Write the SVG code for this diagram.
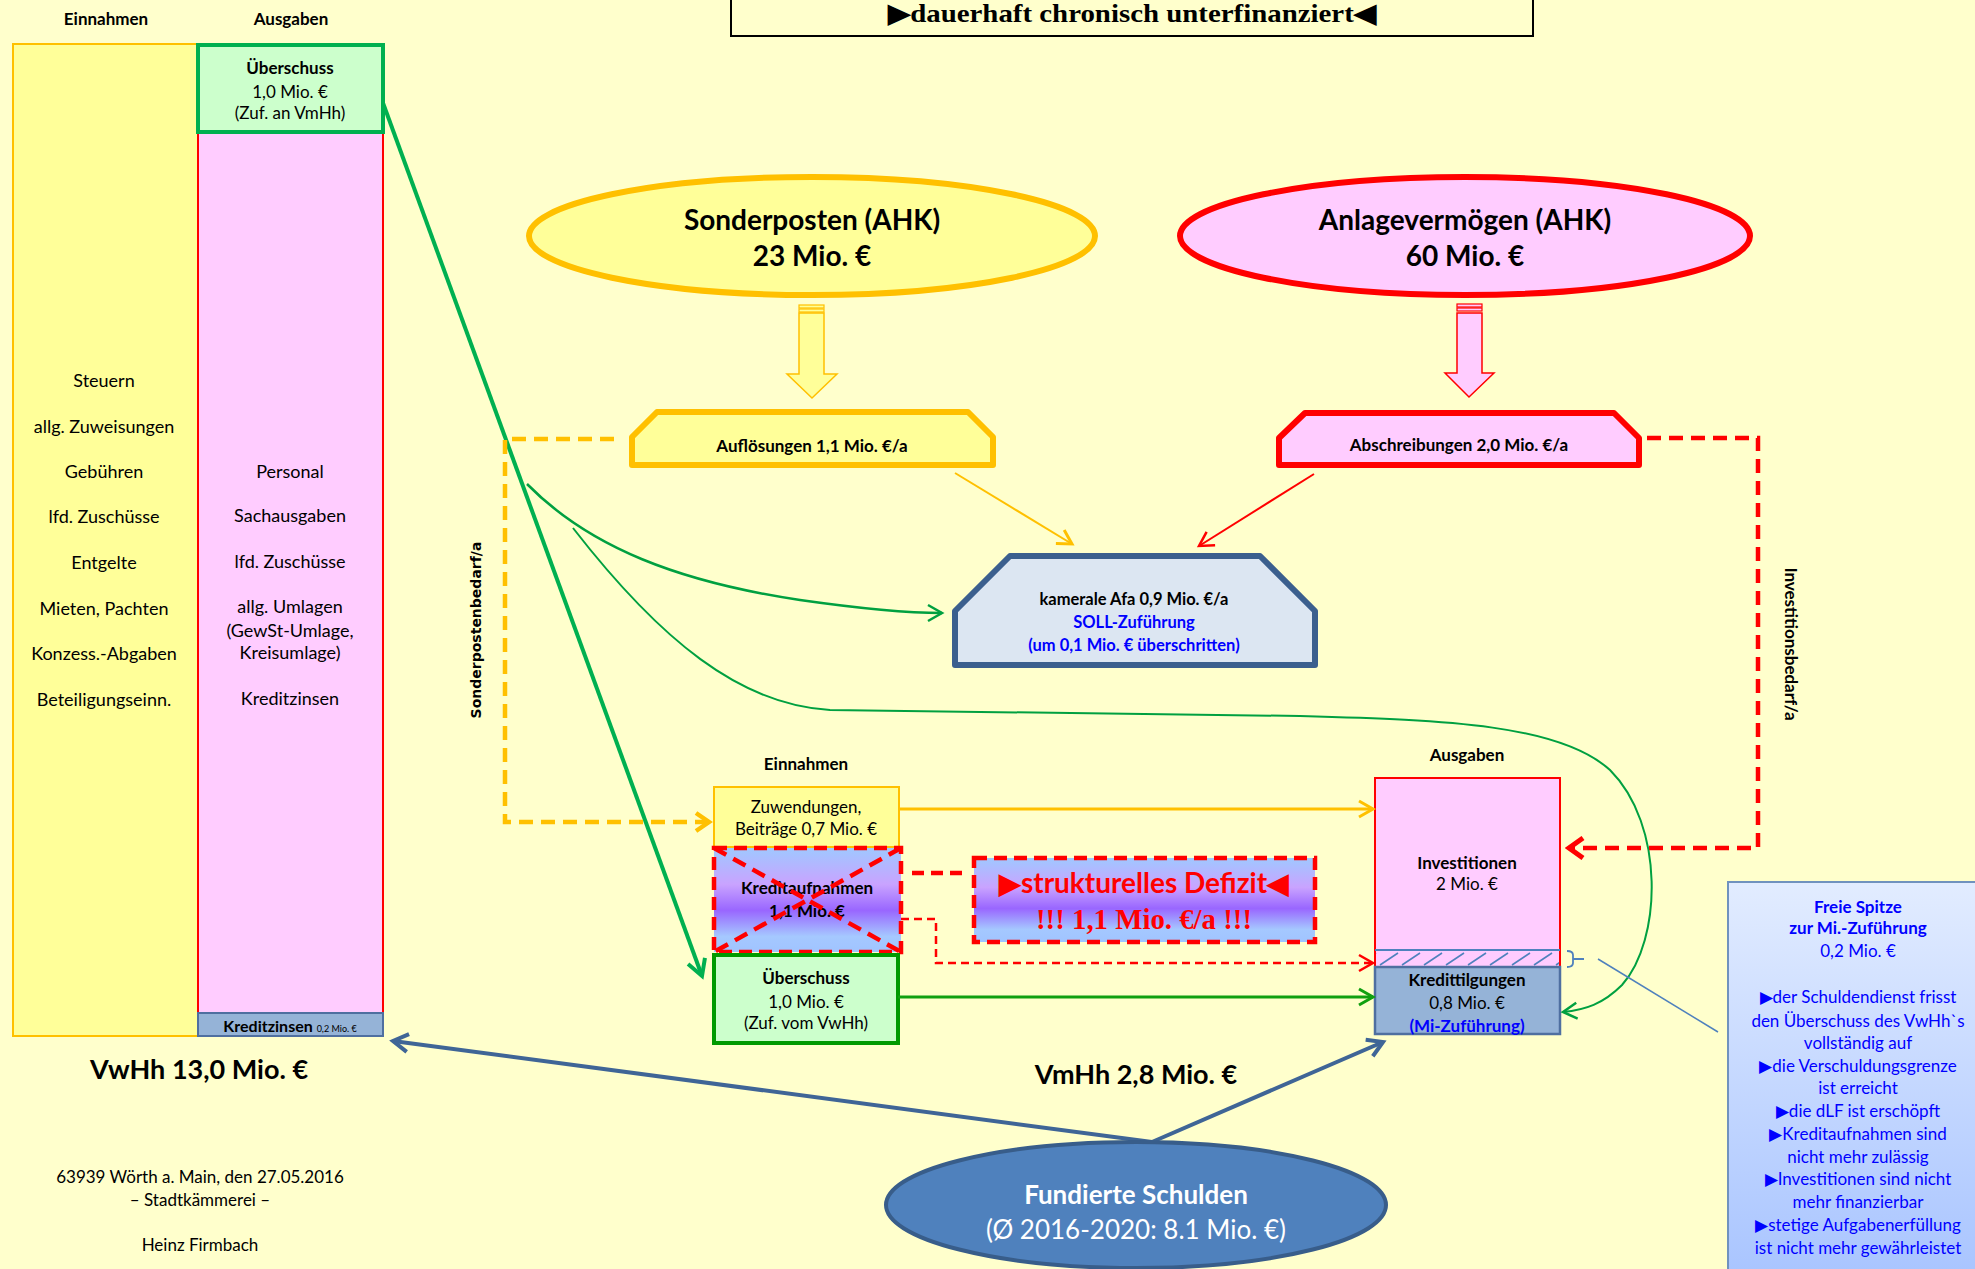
<svg xmlns="http://www.w3.org/2000/svg" width="1975" height="1269" viewBox="0 0 1975 1269">
<style>
.c{font-family:Lato,"Noto Sans",sans-serif;fill:#000}
.b{font-weight:bold}
.m{text-anchor:middle}
.s17{font-size:17px}
.s18{font-size:18px}
.blue{fill:#0000FF}
.ser{font-family:"Liberation Serif","Times New Roman",serif;font-weight:bold}
.ln{fill:none}
</style>
<defs>
<linearGradient id="gP" x1="0" y1="0" x2="0" y2="1">
<stop offset="0" stop-color="#9FC8FF"/>
<stop offset="0.35" stop-color="#C9A3FF"/>
<stop offset="0.6" stop-color="#9966FF"/>
<stop offset="0.85" stop-color="#A5C8FF"/>
<stop offset="1" stop-color="#A0C4FF"/>
</linearGradient>
<linearGradient id="gF" x1="0" y1="0" x2="0" y2="1">
<stop offset="0" stop-color="#E2ECFF"/>
<stop offset="1" stop-color="#A8C4FF"/>
</linearGradient>
<pattern id="hatch" patternUnits="userSpaceOnUse" x="1378" y="950" width="22" height="17">
<path d="M2,15 L20,3" stroke="#4F81BD" stroke-width="1.6"/>
</pattern>
<marker id="mGB" viewBox="-20 -12 24 24" refX="0" refY="0" markerWidth="24" markerHeight="24" markerUnits="userSpaceOnUse" orient="auto"><path d="M-16,-9 L0,0 L-16,9" fill="none" stroke="#00B050" stroke-width="4"/></marker>
<marker id="mG" viewBox="-20 -12 24 24" refX="0" refY="0" markerWidth="24" markerHeight="24" markerUnits="userSpaceOnUse" orient="auto"><path d="M-14,-8 L0,0 L-14,8" fill="none" stroke="#00A040" stroke-width="2.5"/></marker>
<marker id="mGD" viewBox="-20 -12 24 24" refX="0" refY="0" markerWidth="24" markerHeight="24" markerUnits="userSpaceOnUse" orient="auto"><path d="M-14,-8 L0,0 L-14,8" fill="none" stroke="#10A010" stroke-width="3"/></marker>
<marker id="mY" viewBox="-20 -12 24 24" refX="0" refY="0" markerWidth="24" markerHeight="24" markerUnits="userSpaceOnUse" orient="auto"><path d="M-14,-8 L0,0 L-14,8" fill="none" stroke="#FFC000" stroke-width="3"/></marker>
<marker id="mYB" viewBox="-20 -12 24 24" refX="0" refY="0" markerWidth="24" markerHeight="24" markerUnits="userSpaceOnUse" orient="auto"><path d="M-13,-9 L0,0 L-13,9" fill="none" stroke="#FFC000" stroke-width="4.5"/></marker>
<marker id="mR" viewBox="-20 -12 24 24" refX="0" refY="0" markerWidth="24" markerHeight="24" markerUnits="userSpaceOnUse" orient="auto"><path d="M-14,-8 L0,0 L-14,8" fill="none" stroke="#FF0000" stroke-width="2.5"/></marker>
<marker id="mRB" viewBox="-20 -12 24 24" refX="0" refY="0" markerWidth="24" markerHeight="24" markerUnits="userSpaceOnUse" orient="auto"><path d="M-14,-10 L0,0 L-14,10" fill="none" stroke="#FF0000" stroke-width="5"/></marker>
<marker id="mB" viewBox="-20 -12 24 24" refX="0" refY="0" markerWidth="24" markerHeight="24" markerUnits="userSpaceOnUse" orient="auto"><path d="M-15,-9 L0,0 L-15,9" fill="none" stroke="#3F6596" stroke-width="4"/></marker>
</defs>
<rect x="0" y="0" width="1975" height="1269" fill="#FFFFCC"/>

<g id="title">
<rect x="731" y="-10" width="802" height="46" fill="#FFFFCC" stroke="#000" stroke-width="2"/>
<text class="ser m" x="1132" y="22" font-size="26" textLength="488" lengthAdjust="spacingAndGlyphs">▶dauerhaft chronisch unterfinanziert◀</text>
</g>

<g id="vwhh-einnahmen">
<text class="c b m s17" x="106" y="25">Einnahmen</text>
<rect x="13" y="44" width="185" height="992" fill="#FFFF99" stroke="#FFC000" stroke-width="2"/>
<text class="c m s18" x="104" y="387">Steuern</text>
<text class="c m s18" x="104" y="433">allg. Zuweisungen</text>
<text class="c m s18" x="104" y="478">Gebühren</text>
<text class="c m s18" x="104" y="523">lfd. Zuschüsse</text>
<text class="c m s18" x="104" y="569">Entgelte</text>
<text class="c m s18" x="104" y="615">Mieten, Pachten</text>
<text class="c m s18" x="104" y="660">Konzess.-Abgaben</text>
<text class="c m s18" x="104" y="706">Beteiligungseinn.</text>
</g>

<g id="vwhh-ausgaben">
<text class="c b m s17" x="291" y="25">Ausgaben</text>
<rect x="198" y="44" width="185" height="992" fill="#FFCCFF" stroke="#FF0000" stroke-width="2"/>
<text class="c m s18" x="290" y="478">Personal</text>
<text class="c m s18" x="290" y="522">Sachausgaben</text>
<text class="c m s18" x="290" y="568">lfd. Zuschüsse</text>
<text class="c m s18" x="290" y="613">allg. Umlagen</text>
<text class="c m s18" x="290" y="637">(GewSt-Umlage,</text>
<text class="c m s18" x="290" y="659">Kreisumlage)</text>
<text class="c m s18" x="290" y="705">Kreditzinsen</text>
</g>

<g id="vwhh-ueberschuss">
<rect x="198" y="45" width="185" height="87" fill="#CCFFCC" stroke="#00B050" stroke-width="4"/>
<text class="c b m s17" x="290" y="74">Überschuss</text>
<text class="c m s17" x="290" y="98">1,0 Mio. €</text>
<text class="c m s17" x="290" y="119">(Zuf. an VmHh)</text>
</g>

<g id="vwhh-kreditzinsen">
<rect x="198" y="1013" width="185" height="23" fill="#95B3D7" stroke="#4F6FA0" stroke-width="2"/>
<text class="c b m" x="290" y="1032" font-size="16">Kreditzinsen <tspan font-weight="normal" font-size="9">0,2 Mio. €</tspan></text>
</g>

<g id="vwhh-label">
<text class="c b m" x="199" y="1079" font-size="27">VwHh 13,0 Mio. €</text>
</g>

<g id="footer">
<text class="c m s17" x="200" y="1183">63939 Wörth a. Main, den 27.05.2016</text>
<text class="c m s17" x="200" y="1206">– Stadtkämmerei –</text>
<text class="c m s17" x="200" y="1251">Heinz Firmbach</text>
</g>

<g id="sonderposten">
<ellipse cx="812" cy="236" rx="283" ry="59" fill="#FFFF99" stroke="#FFC000" stroke-width="6"/>
<text class="c b m" x="812" y="230" font-size="28">Sonderposten (AHK)</text>
<text class="c b m" x="812" y="266" font-size="28">23 Mio. €</text>
</g>

<g id="anlagevermoegen">
<ellipse cx="1465" cy="236" rx="285" ry="59" fill="#FFCCFF" stroke="#FF0000" stroke-width="6"/>
<text class="c b m" x="1465" y="230" font-size="28">Anlagevermögen (AHK)</text>
<text class="c b m" x="1465" y="266" font-size="28">60 Mio. €</text>
</g>

<g id="arrow-sonderposten">
<polygon points="799,313 824,313 824,374 837,374 812,398 787,374 799,374" fill="#FFFF99" stroke="#FFC000" stroke-width="1.5"/>
<rect x="799" y="305" width="25" height="3" fill="#FFFF99" stroke="#FFC000" stroke-width="1.2"/>
<rect x="799" y="309" width="25" height="3" fill="#FFFF99" stroke="#FFC000" stroke-width="1.2"/>
</g>

<g id="arrow-anlage">
<polygon points="1457,313 1482,313 1482,373 1494,373 1469,397 1445,373 1457,373" fill="#FFCCFF" stroke="#FF0000" stroke-width="1.5"/>
<rect x="1457" y="304" width="25" height="3" fill="#FFCCFF" stroke="#FF0000" stroke-width="1.2"/>
<rect x="1457" y="308" width="25" height="3" fill="#FFCCFF" stroke="#FF0000" stroke-width="1.2"/>
</g>

<g id="aufloesungen">
<polygon points="657,412 968,412 993,437 993,465 632,465 632,437" fill="#FFFF99" stroke="#FFC000" stroke-width="6" stroke-linejoin="round"/>
<text class="c b m s17" x="812" y="452">Auflösungen 1,1 Mio. €/a</text>
</g>

<g id="abschreibungen">
<polygon points="1305,413 1614,413 1639,438 1639,465 1279,465 1279,438" fill="#FFCCFF" stroke="#FF0000" stroke-width="6" stroke-linejoin="round"/>
<text class="c b m s17" x="1459" y="451">Abschreibungen 2,0 Mio. €/a</text>
</g>

<g id="kamerale-afa">
<polygon points="1010,556 1260,556 1315,611 1315,665 955,665 955,611" fill="#DCE6F2" stroke="#3B5F8E" stroke-width="6" stroke-linejoin="round"/>
<text class="c b m" x="1134" y="605" font-size="16.5">kamerale Afa 0,9 Mio. €/a</text>
<text class="c b m blue" x="1134" y="628" font-size="16.5">SOLL-Zuführung</text>
<text class="c b m blue" x="1134" y="651" font-size="16.5">(um 0,1 Mio. € überschritten)</text>
</g>

<g id="label-sonderpostenbedarf">
<text transform="translate(481,630) rotate(-90)" text-anchor="middle" font-family="'DejaVu Sans',sans-serif" font-weight="bold" font-size="14">Sonderpostenbedarf/a</text>
</g>

<g id="label-investitionsbedarf">
<text class="c b m s17" transform="translate(1785,644) rotate(90)" x="0" y="0">Investitionsbedarf/a</text>
</g>

<g id="vmhh-einnahmen-label">
<text class="c b m s17" x="806" y="770">Einnahmen</text>
</g>

<g id="zuwendungen">
<rect x="714" y="787" width="185" height="60" fill="#FFFF99" stroke="#FFC000" stroke-width="2"/>
<text class="c m s17" x="806" y="813">Zuwendungen,</text>
<text class="c m s17" x="806" y="835">Beiträge 0,7 Mio. €</text>
</g>

<g id="kreditaufnahmen">
<rect x="714" y="848" width="187" height="104" fill="url(#gP)"/>
<text class="c b m s17" x="807" y="894">Kreditaufnahmen</text>
<text class="c b m s17" x="807" y="917">1,1 Mio. €</text>
<rect x="714" y="848" width="187" height="104" fill="none" stroke="#FF0000" stroke-width="4.5" stroke-dasharray="13 7"/>
<path d="M714,848 L901,952 M901,848 L714,952" fill="none" stroke="#FF0000" stroke-width="4.5" stroke-dasharray="14 8"/>
</g>

<g id="vmhh-ueberschuss">
<rect x="714" y="955" width="184" height="88" fill="#CCFFCC" stroke="#009A00" stroke-width="4"/>
<text class="c b m s17" x="806" y="984">Überschuss</text>
<text class="c m s17" x="806" y="1008">1,0 Mio. €</text>
<text class="c m s17" x="806" y="1029">(Zuf. vom VwHh)</text>
</g>

<g id="strukturelles-defizit">
<rect x="974" y="858" width="341" height="84" fill="url(#gP)" stroke="#FF0000" stroke-width="4.5" stroke-dasharray="13 7"/>
<text class="c b m" x="1144" y="893" font-size="28" style="fill:#FF0000">▶strukturelles Defizit◀</text>
<text class="ser m" x="1144" y="929" font-size="30" fill="#FF0000" textLength="216" lengthAdjust="spacingAndGlyphs">!!! 1,1 Mio. €/a !!!</text>
</g>

<g id="vmhh-ausgaben-label">
<text class="c b m s17" x="1467" y="761">Ausgaben</text>
</g>

<g id="investitionen">
<rect x="1375" y="778" width="185" height="189" fill="#FFCCFF" stroke="#FF0000" stroke-width="2"/>
<rect x="1376" y="950" width="183" height="16" fill="url(#hatch)"/>
<line x1="1375" y1="950" x2="1560" y2="950" stroke="#4F81BD" stroke-width="2"/>
<text class="c b m s17" x="1467" y="869">Investitionen</text>
<text class="c m s17" x="1467" y="890">2 Mio. €</text>
</g>

<g id="kredittilgungen">
<rect x="1375" y="967" width="185" height="67" fill="#95B3D7" stroke="#4F6FA0" stroke-width="2.5"/>
<text class="c b m s17" x="1467" y="986">Kredittilgungen</text>
<text class="c m s17" x="1467" y="1009">0,8 Mio. €</text>
<text class="c b m s17 blue" x="1467" y="1032">(Mi-Zuführung)</text>
</g>

<g id="freie-spitze-klammer">
<path d="M1567,951 Q1573,951 1573,955 L1573,963 Q1573,967 1567,967 M1573,959 H1584" fill="none" stroke="#4F81BD" stroke-width="1.8"/>
</g>

<g id="freie-spitze">
<rect x="1728" y="882" width="260" height="400" fill="url(#gF)" stroke="#7092BE" stroke-width="2"/>
<text class="c b m s17 blue" x="1858" y="913">Freie Spitze</text>
<text class="c b m s17 blue" x="1858" y="934">zur Mi.-Zuführung</text>
<text class="c m s17 blue" x="1858" y="957">0,2 Mio. €</text>
<text class="c m s17 blue" x="1858" y="1003">▶der Schuldendienst frisst</text>
<text class="c m s17 blue" x="1858" y="1027">den Überschuss des VwHh`s</text>
<text class="c m s17 blue" x="1858" y="1049">vollständig auf</text>
<text class="c m s17 blue" x="1858" y="1072">▶die Verschuldungsgrenze</text>
<text class="c m s17 blue" x="1858" y="1094">ist erreicht</text>
<text class="c m s17 blue" x="1858" y="1117">▶die dLF ist erschöpft</text>
<text class="c m s17 blue" x="1858" y="1140">▶Kreditaufnahmen sind</text>
<text class="c m s17 blue" x="1858" y="1163">nicht mehr zulässig</text>
<text class="c m s17 blue" x="1858" y="1185">▶Investitionen sind nicht</text>
<text class="c m s17 blue" x="1858" y="1208">mehr finanzierbar</text>
<text class="c m s17 blue" x="1858" y="1231">▶stetige Aufgabenerfüllung</text>
<text class="c m s17 blue" x="1858" y="1254">ist nicht mehr gewährleistet</text>
</g>

<g id="vmhh-label">
<text class="c b m" x="1136" y="1084" font-size="27">VmHh 2,8 Mio. €</text>
</g>

<g id="connectors">
<path class="ln" d="M383,103 L702,976" stroke="#00B050" stroke-width="4" marker-end="url(#mGB)"/>
<path class="ln" d="M527,484 C590,548 680,582 800,600 C870,610 910,613 942,613" stroke="#00A040" stroke-width="2.5" marker-end="url(#mG)"/>
<path class="ln" d="M573,528 C660,640 740,705 830,710 L1300,716 C1450,720 1560,725 1610,770 C1665,825 1662,940 1622,985 C1603,1004 1585,1010 1563,1012" stroke="#00A040" stroke-width="2" marker-end="url(#mG)"/>
<path class="ln" d="M955,473 L1072,544" stroke="#FFC000" stroke-width="2" marker-end="url(#mY)"/>
<path class="ln" d="M1314,474 L1199,546" stroke="#FF0000" stroke-width="2" marker-end="url(#mR)"/>
<path class="ln" d="M614,439 H505 V822 H709" stroke="#FFC000" stroke-width="4.5" stroke-dasharray="14 8" marker-end="url(#mYB)"/>
<path class="ln" d="M1647,438 H1758 V848 H1569" stroke="#FF0000" stroke-width="4.5" stroke-dasharray="14 8" marker-end="url(#mRB)"/>
<path class="ln" d="M899,809 H1373" stroke="#FFC000" stroke-width="3" marker-end="url(#mY)"/>
<path class="ln" d="M898,997 H1373" stroke="#10A010" stroke-width="3" marker-end="url(#mGD)"/>
<path class="ln" d="M901,919 H936 V963 H1373" stroke="#FF0000" stroke-width="2.5" stroke-dasharray="8 5" marker-end="url(#mR)"/>
<path class="ln" d="M912,873 H966" stroke="#FF0000" stroke-width="4.5" stroke-dasharray="12 7"/>
<path class="ln" d="M1152,1142 L393,1041" stroke="#3F6596" stroke-width="4" marker-end="url(#mB)"/>
<path class="ln" d="M1152,1142 L1383,1042" stroke="#3F6596" stroke-width="4" marker-end="url(#mB)"/>
<path class="ln" d="M1598,959 L1718,1032" stroke="#4F81BD" stroke-width="1.5"/>
</g>

<g id="fundierte-schulden">
<ellipse cx="1136" cy="1205" rx="250" ry="63" fill="#4F81BD" stroke="#385D8A" stroke-width="4"/>
<text class="c b m" x="1136" y="1204" font-size="26" style="fill:#fff">Fundierte Schulden</text>
<text class="c m" x="1136" y="1239" font-size="26" style="fill:#fff">(Ø 2016-2020: 8.1 Mio. €)</text>
</g>
</svg>
